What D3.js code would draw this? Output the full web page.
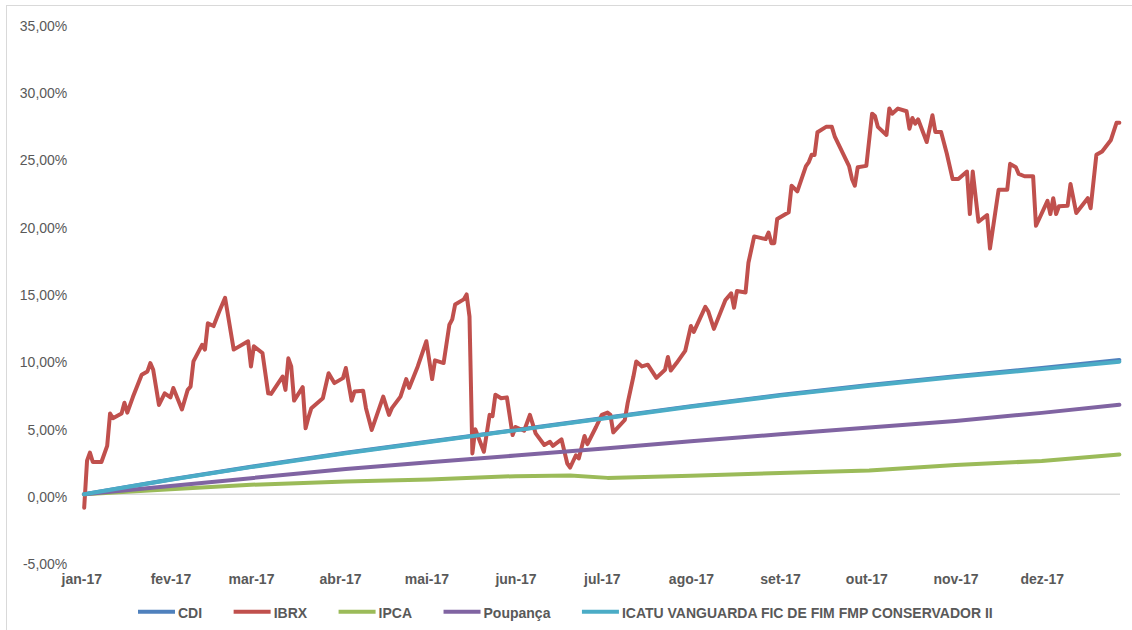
<!DOCTYPE html>
<html>
<head>
<meta charset="utf-8">
<script src="https://cdn.jsdelivr.net/npm/d3@7"></script>
<style>
  body { margin: 0; background: #fff; }
  svg text { font-family: "Liberation Sans", Arial, sans-serif; fill: #595959; }
</style>
</head>
<body>
<div id="chart"></div>
<script>
// month tick labels
var monthLabels = ["jan-17", "fev-17", "mar-17", "abr-17", "mai-17", "jun-17",
                   "jul-17", "ago-17", "set-17", "out-17", "nov-17", "dez-17"];

// smooth series (monthly points)
var refDates = ["2017-01-02", "2017-02-01", "2017-03-01", "2017-04-03", "2017-05-02", "2017-06-01",
                "2017-07-03", "2017-08-01", "2017-09-01", "2017-10-02", "2017-11-01", "2017-12-01", "2017-12-28"];
var cdiValues      = [0, 1.10, 2.05, 3.08, 3.92, 4.78, 5.70, 6.55, 7.38, 8.12, 8.78, 9.38, 9.98];
var icatuValues    = [0, 1.08, 2.02, 3.05, 3.89, 4.75, 5.67, 6.51, 7.33, 8.07, 8.72, 9.30, 9.85];
var poupancaValues = [0, 0.62, 1.20, 1.88, 2.38, 2.88, 3.42, 3.94, 4.46, 4.96, 5.45, 6.05, 6.65];

var ipcaDates = ["2017-01-02", "2017-02-01", "2017-03-01", "2017-04-03", "2017-05-02", "2017-06-01", "2017-06-20",
                 "2017-07-03", "2017-08-01", "2017-09-01", "2017-10-02", "2017-11-01", "2017-12-01", "2017-12-28"];
var ipcaValues = [0, 0.38, 0.71, 0.96, 1.10, 1.35, 1.40, 1.22, 1.38, 1.58, 1.76, 2.18, 2.48, 2.95];

// IBRX
var ibrxDates = [
  "2017-01-02","2017-01-03","2017-01-04","2017-01-05","2017-01-08","2017-01-10","2017-01-11","2017-01-12",
  "2017-01-15","2017-01-16","2017-01-17","2017-01-19","2017-01-22","2017-01-24","2017-01-25","2017-01-26",
  "2017-01-28","2017-01-30","2017-02-01","2017-02-02","2017-02-05","2017-02-07","2017-02-08","2017-02-09",
  "2017-02-12","2017-02-13","2017-02-14","2017-02-16","2017-02-18","2017-02-20","2017-02-23","2017-02-28",
  "2017-03-01","2017-03-02","2017-03-05","2017-03-07","2017-03-08","2017-03-12","2017-03-13","2017-03-14",
  "2017-03-15","2017-03-16","2017-03-19","2017-03-20","2017-03-21","2017-03-22","2017-03-26","2017-03-28",
  "2017-03-30","2017-04-02","2017-04-03","2017-04-05","2017-04-06","2017-04-09","2017-04-10","2017-04-12",
  "2017-04-16","2017-04-18","2017-04-19","2017-04-22","2017-04-24","2017-04-25","2017-04-28","2017-05-01",
  "2017-05-03","2017-05-04","2017-05-07","2017-05-09","2017-05-10","2017-05-11","2017-05-14","2017-05-15",
  "2017-05-16","2017-05-17","2017-05-18","2017-05-21","2017-05-23","2017-05-24","2017-05-25","2017-05-27",
  "2017-05-29","2017-05-31","2017-06-01","2017-06-04","2017-06-06","2017-06-08","2017-06-11","2017-06-13",
  "2017-06-14","2017-06-17","2017-06-19","2017-06-20","2017-06-22","2017-06-23","2017-06-25","2017-06-26",
  "2017-06-29","2017-07-01","2017-07-03","2017-07-04","2017-07-05","2017-07-09","2017-07-10","2017-07-12",
  "2017-07-13","2017-07-15","2017-07-17","2017-07-20","2017-07-23","2017-07-24","2017-07-25","2017-07-27",
  "2017-07-30","2017-08-01","2017-08-02","2017-08-06","2017-08-07","2017-08-09","2017-08-13","2017-08-15",
  "2017-08-16","2017-08-17","2017-08-20","2017-08-21","2017-08-23","2017-08-27","2017-08-28","2017-08-29",
  "2017-08-30","2017-08-31","2017-09-04","2017-09-05","2017-09-07","2017-09-10","2017-09-11","2017-09-12",
  "2017-09-13","2017-09-14","2017-09-17","2017-09-19","2017-09-20","2017-09-25","2017-09-26","2017-09-27",
  "2017-09-28","2017-10-01","2017-10-03","2017-10-04","2017-10-05","2017-10-08","2017-10-09","2017-10-10",
  "2017-10-12","2017-10-15","2017-10-16","2017-10-17","2017-10-18","2017-10-19","2017-10-22","2017-10-24",
  "2017-10-25","2017-10-27","2017-10-29","2017-10-31","2017-11-02","2017-11-05","2017-11-06","2017-11-07",
  "2017-11-09","2017-11-12","2017-11-13","2017-11-16","2017-11-19","2017-11-20","2017-11-22","2017-11-23",
  "2017-11-25","2017-11-28","2017-11-29","2017-12-03","2017-12-04","2017-12-05","2017-12-06","2017-12-07",
  "2017-12-10","2017-12-11","2017-12-13","2017-12-17","2017-12-18","2017-12-20","2017-12-22","2017-12-25",
  "2017-12-27","2017-12-28"];
var ibrxValues = [
  -1.0, 2.5, 3.1, 2.4, 2.4, 3.6, 6.0, 5.65,
  6.0, 6.8, 6.07, 7.26, 8.88, 9.13, 9.75, 9.25,
  6.64, 7.5, 7.2, 7.9, 6.3, 7.76, 8.0, 9.87,
  11.1, 10.75, 12.7, 12.5, 13.6, 14.6, 10.75, 11.37,
  9.5, 11.0, 10.5, 7.5, 7.46, 8.75, 7.76, 10.1,
  9.5, 6.96, 7.96, 4.9, 5.72, 6.4, 7.14, 9.0,
  8.26, 8.63, 9.38, 6.96, 7.63, 7.7, 6.4, 4.78,
  7.26, 5.9, 6.4, 7.26, 8.56, 7.9, 9.5, 11.37,
  8.56, 9.95, 9.75, 12.6, 13.0, 14.1, 14.48, 14.85,
  13.2, 3.04, 4.83, 3.16, 5.9, 5.8, 7.4, 7.14,
  7.2, 4.4, 5.0, 4.72, 5.9, 4.53, 3.66, 3.9,
  3.6, 4.08, 2.29, 1.99, 2.9, 2.66, 4.33, 3.73,
  5.0, 5.9, 6.07, 5.9, 4.6, 5.52, 6.77, 8.75,
  9.87, 9.5, 9.63, 8.65, 9.25, 10.2, 9.2, 9.75,
  10.65, 12.5, 12.07, 13.93, 13.6, 12.29, 14.43, 14.93,
  13.86, 15.1, 15.0, 17.2, 19.16, 18.96, 19.45, 18.66,
  18.66, 20.45, 20.95, 22.93, 22.5, 24.38, 24.68, 25.22,
  25.2, 26.9, 27.3, 27.3, 26.6, 24.38, 23.43, 22.93,
  24.3, 24.4, 28.28, 28.1, 27.3, 26.7, 28.66, 28.28,
  28.66, 28.46, 27.16, 27.96, 27.54, 27.86, 26.17, 28.16,
  26.92, 26.92, 25.3, 23.43, 23.43, 23.98, 20.82, 23.98,
  20.25, 20.75, 18.26, 22.63, 22.63, 24.55, 24.3, 23.8,
  23.63, 23.63, 19.95, 21.8, 20.82, 22.0, 20.82, 21.4,
  21.44, 23.06, 20.9, 22.0, 21.25, 25.22, 25.47, 26.3,
  27.6, 27.6];

var yTicks = [-5, 0, 5, 10, 15, 20, 25, 30, 35];

var parseDate = d3.utcParse("%Y-%m-%d");

var series = [
  {name: "CDI", color: "#4F81BD", dates: refDates, values: cdiValues},
  {name: "IBRX", color: "#C0504D", dates: ibrxDates, values: ibrxValues},
  {name: "IPCA", color: "#9BBB59", dates: ipcaDates, values: ipcaValues},
  {name: "Poupança", color: "#8064A2", dates: refDates, values: poupancaValues},
  {name: "ICATU VANGUARDA FIC DE FIM FMP CONSERVADOR II", color: "#4BACC6", dates: refDates, values: icatuValues}
];

var svgWidth = 1132, svgHeight = 630;
var svg = d3.select("#chart").append("svg")
  .attr("width", svgWidth)
  .attr("height", svgHeight);

// outer frame
svg.append("rect")
  .attr("x", 6.5).attr("y", 5.5)
  .attr("width", 1140).attr("height", 640)
  .attr("fill", "none")
  .attr("stroke", "#D9D9D9");

var x = d3.scaleUtc()
  .domain([parseDate("2017-01-01"), parseDate("2017-12-31")])
  .range([81.3, 1128]);

var y = d3.scaleLinear()
  .domain([-5, 35])
  .range([561.6, 23.2]);

// zero line
svg.append("line")
  .attr("x1", x.range()[0]).attr("x2", 1120)
  .attr("y1", y(0)).attr("y2", y(0))
  .attr("stroke", "#D9D9D9")
  .attr("stroke-width", 1.5);

// y axis
var yAxis = svg.append("g")
  .attr("transform", "translate(" + x.range()[0] + ",0)")
  .call(d3.axisLeft(y).tickValues(yTicks).tickSize(0).tickPadding(14)
    .tickFormat(function(d) { return d.toFixed(2).replace(".", ",") + "%"; }));
yAxis.select(".domain").remove();
yAxis.selectAll("text")
  .attr("dy", "0.5em")
  .style("font-size", "14px");

// x axis
var monthStarts = monthLabels.map(function(d, i) { return new Date(Date.UTC(2017, i, 1)); });
var xAxis = svg.append("g")
  .attr("transform", "translate(0," + y(-5) + ")")
  .call(d3.axisBottom(x).tickValues(monthStarts).tickSize(0).tickPadding(12)
    .tickFormat(function(d, i) { return monthLabels[i]; }));
xAxis.select(".domain").remove();
xAxis.selectAll("text")
  .style("font-size", "14px")
  .style("font-weight", "bold");

// lines
var line = d3.line()
  .x(function(d) { return x(d.date); })
  .y(function(d) { return y(d.value); });

series.forEach(function(s) {
  var pts = s.dates.map(function(d, i) { return {date: parseDate(d), value: s.values[i]}; });
  svg.append("path")
    .datum(pts)
    .attr("fill", "none")
    .attr("stroke", s.color)
    .attr("stroke-width", 4)
    .attr("stroke-linejoin", "round")
    .attr("stroke-linecap", "round")
    .attr("d", line);
});

// legend
var legend = svg.append("g").attr("class", "legend");
var lx = 138, ly = 611.7;
series.forEach(function(s) {
  legend.append("line")
    .attr("x1", lx).attr("x2", lx + 37)
    .attr("y1", ly).attr("y2", ly)
    .attr("stroke", s.color)
    .attr("stroke-width", 4);
  var t = legend.append("text")
    .attr("x", lx + 40)
    .attr("y", ly + 6.5)
    .style("font-size", "14px")
    .style("font-weight", "bold")
    .text(s.name);
  lx = lx + 40 + t.node().getComputedTextLength() + 31.5;
});
</script>
</body>
</html>
